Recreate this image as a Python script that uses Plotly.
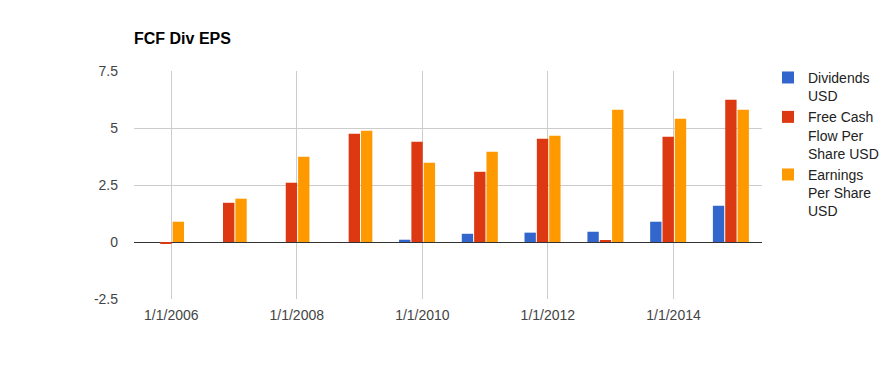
import plotly.graph_objects as go

# ---- data ----
dates = ["2005-12-01", "2006-12-01", "2007-12-01", "2008-12-01", "2009-12-01",
         "2010-12-01", "2011-12-01", "2012-12-01", "2013-12-01", "2014-12-01"]
dividends = [None, 0.0, 0.0, 0.0, 0.10, 0.36, 0.41, 0.45, 0.89, 1.59]
fcf_per_share = [-0.08, 1.72, 2.60, 4.75, 4.40, 3.08, 4.53, 0.06, 4.62, 6.24]
eps = [0.89, 1.90, 3.74, 4.88, 3.48, 3.96, 4.66, 5.80, 5.41, 5.80]

series_names = ["Dividends<br>USD", "Free Cash<br>Flow Per<br>Share USD", "Earnings<br>Per Share<br>USD"]
series_colors = ["#3366cc", "#dc3912", "#ff9900"]

x_tickvals = ["2006-01-01", "2008-01-01", "2010-01-01", "2012-01-01", "2014-01-01"]
x_ticktext = ["1/1/2006", "1/1/2008", "1/1/2010", "1/1/2012", "1/1/2014"]
y_tickvals = [-2.5, 0, 2.5, 5, 7.5]
y_ticktext = ["-2.5", "0", "2.5", "5", "7.5"]

FONT = "Liberation Sans, Arial, sans-serif"

# the page body has an 8px margin, so the figure is 16px smaller than the window
W, H = 880, 355
L, R, T, B = 126, 126, 63, 64

fig = go.Figure()
for name, vals, col in zip(series_names, [dividends, fcf_per_share, eps], series_colors):
    fig.add_trace(go.Bar(x=dates, y=vals, name=name, marker_color=col,
                         marker_line_width=0))

fig.update_layout(
    width=W, height=H,
    margin=dict(l=L, r=R, t=T, b=B, autoexpand=False),
    paper_bgcolor="white", plot_bgcolor="white",
    barmode="group", bargap=0.41, bargroupgap=0.08,
    font=dict(family=FONT, size=14, color="#222222"),
    title=dict(text="<b>FCF Div EPS</b>", x=L / W, xanchor="left",
               y=1 - 30 / H, yanchor="middle",
               font=dict(family=FONT, size=16, color="#000000")),
    legend=dict(x=1.0 + 6 / 628, xanchor="left", y=1.04, yanchor="top",
                valign="top", tracegroupgap=5,
                font=dict(family=FONT, size=14, color="#222222"),
                bgcolor="rgba(0,0,0,0)"),
    xaxis=dict(type="date", range=["2005-05-29", "2015-05-31"],
               tickvals=x_tickvals, ticktext=x_ticktext,
               showgrid=True, gridcolor="#cccccc", gridwidth=1,
               zeroline=False, showline=False, ticks="",
               ticklabelstandoff=6,
               tickfont=dict(family=FONT, size=14, color="#444444")),
    yaxis=dict(range=[-2.5, 7.5], tickvals=y_tickvals, ticktext=y_ticktext,
               showgrid=True, gridcolor="#cccccc", gridwidth=1,
               zeroline=True, zerolinecolor="#333333", zerolinewidth=1,
               showline=False, ticks="", ticklabelstandoff=15,
               tickfont=dict(family=FONT, size=14, color="#444444")),
)

fig.write_html("out.html")
